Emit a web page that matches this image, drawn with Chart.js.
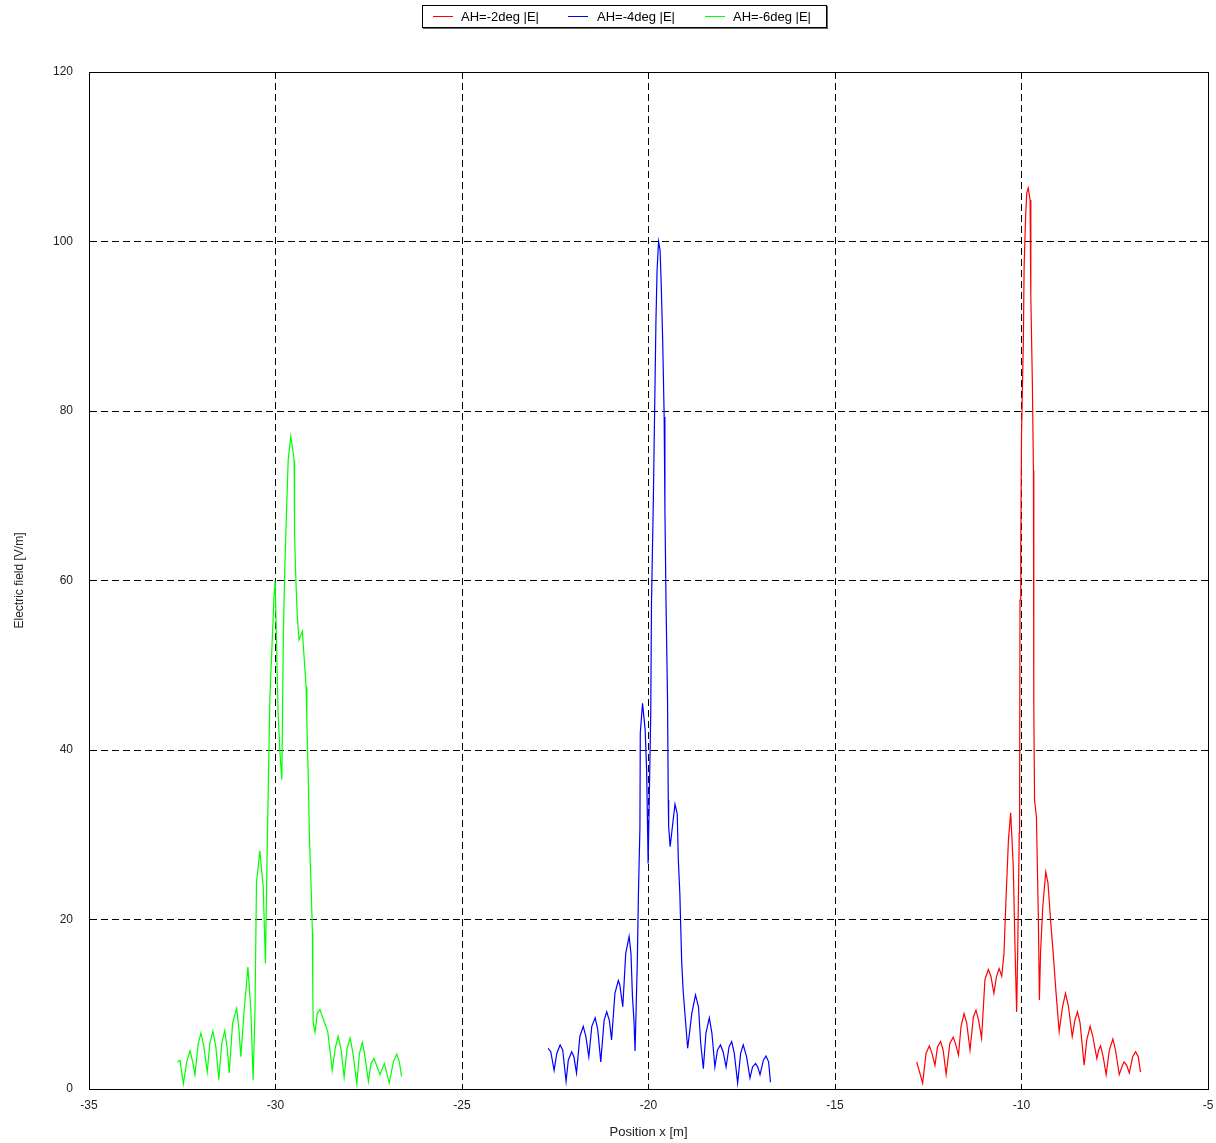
<!DOCTYPE html>
<html>
<head>
<meta charset="utf-8">
<script src="https://cdn.jsdelivr.net/npm/chart.js@4.4.0/dist/chart.umd.min.js"></script>
<style>
    body { margin: 0; background: #fff; font-family: "Liberation Sans", Arial, sans-serif; }
    #wrap { position: relative; width: 1216px; height: 1143px; }
    #legend { position: absolute; left: 422px; top: 5px; width: 403px; height: 21px; border: 1px solid #000; box-shadow: 1px 1px 0 #666; background: #fff; }
    .sw { position: absolute; top: 10px; width: 20px; height: 1px; }
    .lbl { position: absolute; top: 3px; font-size: 13px; color: #000; white-space: nowrap; }
</style>
</head>
<body>
<div id="wrap">
    <canvas id="myChart" width="1216" height="1143"></canvas>
    <div id="legend">
        <div class="sw" style="left:10px;background:#ff0000"></div><div class="lbl" style="left:38px">AH=-2deg |E|</div>
        <div class="sw" style="left:145px;background:#0000ff"></div><div class="lbl" style="left:174px">AH=-4deg |E|</div>
        <div class="sw" style="left:282px;background:#00ff00"></div><div class="lbl" style="left:310px">AH=-6deg |E|</div>
    </div>
</div>
<script>
const seriesNames = ['AH=-2deg |E|', 'AH=-4deg |E|', 'AH=-6deg |E|'];
const seriesColors = ['#ff0000', '#0000ff', '#00ff00'];

// AH=-2deg
const redX = [-12.81, -12.65, -12.56, -12.47, -12.40, -12.32, -12.25, -12.17, -12.10, -12.02, -11.92, -11.83, -11.76, -11.69,
    -11.62, -11.54, -11.47, -11.38, -11.29, -11.22, -11.15, -11.07, -10.98, -10.89, -10.82, -10.74, -10.67, -10.60,
    -10.53, -10.47, -10.42, -10.35, -10.29, -10.22, -10.17, -10.13, -10.10, -10.06, -10.05, -10.04, -10.02, -10.00, -9.95, -9.93, -9.89, -9.86,
    -9.82, -9.77, -9.75, -9.71, -9.68, -9.67, -9.65, -9.60, -9.55, -9.52, -9.49, -9.43, -9.35, -9.29, -9.22, -9.15, -9.08,
    -8.99, -8.90, -8.82, -8.74, -8.64, -8.57, -8.50, -8.43, -8.32, -8.25, -8.16, -8.09, -7.98, -7.93, -7.88, -7.81,
    -7.73, -7.645, -7.55, -7.48, -7.38, -7.31, -7.25, -7.18, -7.11, -7.02, -6.94, -6.87, -6.81];
const redY = [3.2, 0.7, 4.2, 5.1, 4.2, 2.8, 5.0, 5.6, 4.6, 1.7, 5.4, 6.1, 5.2, 4.0,
    7.4, 8.9, 7.8, 4.6, 8.5, 9.3, 8.1, 6.0, 12.9, 14.1, 13.3, 11.3, 13.3, 14.2,
    13.3, 16.0, 21.9, 29.4, 32.6, 26.2, 16.0, 9.1, 16.8, 30.2, 34.5, 57.7, 63.6, 77.0, 88.4, 97.0, 102.9, 105.7,
    106.3, 104.9, 93.5, 83.7, 73.0, 45.1, 34.1, 32.1, 20.7, 10.5, 16.0, 21.5, 25.6, 24.3, 19.9, 16.0, 11.7,
    6.8, 9.7, 11.3, 9.7, 6.2, 8.1, 9.1, 7.8, 2.8, 5.8, 7.4, 6.2, 3.6, 4.6, 5.1, 3.8,
    1.7, 4.6, 5.9, 4.6, 1.7, 2.6, 3.2, 2.8, 1.9, 3.8, 4.4, 3.8, 2.0];

// AH=-4deg
const blueX = [-22.69, -22.62, -22.53, -22.46, -22.37, -22.30, -22.21, -22.15, -22.06, -22.00, -21.93, -21.84, -21.75, -21.68,
    -21.60, -21.52, -21.43, -21.36, -21.28, -21.19, -21.12, -21.05, -20.99, -20.90, -20.81, -20.77, -20.69, -20.61, -20.52,
    -20.47, -20.43, -20.39, -20.36,
    -20.30, -20.27, -20.23, -20.22, -20.16, -20.09, -20.05, -20.01, -19.94, -19.92, -19.87, -19.83, -19.80, -19.77,
    -19.73, -19.69, -19.66, -19.62, -19.58, -19.56, -19.53, -19.49, -19.47, -19.46, -19.42, -19.29, -19.23, -19.20, -19.16, -19.11, -19.07,
    -18.95, -18.84, -18.74, -18.66, -18.60, -18.53, -18.46, -18.37, -18.30, -18.22, -18.15, -18.07, -18.00, -17.92, -17.84,
    -17.77, -17.70, -17.61, -17.53, -17.46, -17.37, -17.28, -17.21, -17.13, -17.07, -17.01, -16.92, -16.85, -16.78, -16.73];
const blueY = [4.8, 4.4, 2.2, 4.2, 5.2, 4.6, 0.9, 3.4, 4.4, 3.8, 1.9, 6.2, 7.4, 6.2,
    3.8, 7.4, 8.4, 7.0, 3.2, 8.1, 9.1, 8.1, 5.8, 11.3, 12.8, 12.3, 9.7, 16.0, 18.0,
    16.0, 10.9, 8.1, 4.5,
    15.0, 23.1, 30.8, 42.0, 45.5, 42.4, 37.6, 26.6, 44.3, 57.3, 69.5, 81.7, 90.7, 96.6,
    100.0, 99.0, 95.1, 88.4, 79.3, 68.5, 57.3, 46.1, 34.1, 31.0, 28.6, 33.6, 32.5, 27.0, 23.1, 15.0, 11.5,
    4.8, 8.9, 11.1, 9.7, 5.4, 2.4, 6.6, 8.4, 6.6, 2.6, 4.6, 5.2, 4.4, 2.6, 5.0,
    5.6, 4.2, 0.7, 4.2, 5.2, 3.8, 1.3, 2.6, 3.0, 2.6, 1.7, 3.4, 3.9, 3.2, 0.8];

// AH=-6deg
const greenX = [-32.63, -32.56, -32.47, -32.38, -32.29, -32.22, -32.16, -32.07, -32.00, -31.92, -31.83, -31.76, -31.68, -31.60,
    -31.52, -31.44, -31.36, -31.29, -31.24, -31.15, -31.04, -30.98, -30.93, -30.84, -30.74, -30.66, -30.60, -30.55,
    -30.51, -30.42, -30.33, -30.27, -30.22, -30.15, -30.04, -30.01, -29.93, -29.88, -29.83,
    -29.79, -29.75, -29.70, -29.66, -29.59, -29.50, -29.49, -29.46, -29.42, -29.37, -29.28, -29.24, -29.18, -29.16, -29.12, -29.09, -29.04, -29.01, -29.00,
    -28.99, -28.94, -28.88, -28.81, -28.70, -28.60, -28.54, -28.48, -28.40, -28.32, -28.24, -28.16, -28.08, -28.00, -27.93,
    -27.82, -27.75, -27.67, -27.60, -27.51, -27.44, -27.36, -27.29, -27.20, -27.08, -26.95, -26.84, -26.75, -26.68, -26.62];
const greenY = [3.2, 3.4, 0.6, 3.2, 4.5, 3.2, 1.7, 5.4, 6.6, 5.0, 2.0, 5.4, 6.8, 5.0,
    1.1, 5.4, 6.9, 4.6, 1.9, 7.8, 9.5, 7.0, 3.8, 9.3, 14.4, 9.3, 1.1, 9.3,
    24.3, 28.1, 23.9, 14.8, 29.0, 46.3, 58.1, 60.0, 44.3, 39.6, 36.5,
    53.4, 61.6, 68.7, 74.2, 77.0, 74.2, 65.6, 60.9, 56.1, 53.0, 54.0, 51.4, 47.5, 43.5, 36.5, 29.8, 23.1, 18.4, 11.3,
    7.8, 6.7, 8.9, 9.4, 8.0, 6.8, 4.6, 2.2, 4.8, 6.2, 4.6, 1.4, 4.8, 6.0, 4.4,
    0.6, 4.2, 5.5, 3.8, 0.9, 3.0, 3.6, 2.8, 1.7, 3.0, 0.7, 3.2, 4.1, 3.2, 1.5];

const xTicks = { min: -35, max: -5, step: 5 };
const yTicks = { min: 0, max: 120, step: 20 };

function toPoints(xs, ys) {
    return xs.map((x, i) => ({ x: x, y: ys[i] }));
}

// solid frame round the plot area
const frame = {
    id: 'frame',
    afterDraw(chart) {
        const { ctx, chartArea: a } = chart;
        ctx.save();
        ctx.strokeStyle = '#000';
        ctx.lineWidth = 1;
        ctx.strokeRect(a.left + 0.5, a.top + 0.5, a.right - a.left, a.bottom - a.top);
        ctx.restore();
    }
};

const gridOpts = { color: '#000', lineWidth: 1, drawTicks: false };
const borderOpts = { color: '#000', dash: [7, 4] };
const tickFont = { family: '"Liberation Sans", Arial, sans-serif', size: 12 };

new Chart(document.getElementById('myChart').getContext('2d'), {
    type: 'line',
    data: {
        datasets: [
            { label: seriesNames[0], data: toPoints(redX, redY), borderColor: seriesColors[0] },
            { label: seriesNames[1], data: toPoints(blueX, blueY), borderColor: seriesColors[1] },
            { label: seriesNames[2], data: toPoints(greenX, greenY), borderColor: seriesColors[2] }
        ]
    },
    options: {
        responsive: false,
        animation: false,
        layout: { padding: { top: 72, right: 8, left: 0, bottom: 0 } },
        elements: {
            line: { borderWidth: 1.2, tension: 0, fill: false },
            point: { radius: 0 }
        },
        plugins: { legend: { display: false }, tooltip: { enabled: false } },
        scales: {
            x: {
                type: 'linear',
                min: xTicks.min,
                max: xTicks.max,
                ticks: { stepSize: xTicks.step, color: '#222', font: tickFont, padding: 9 },
                grid: gridOpts,
                border: borderOpts,
                title: { display: true, text: 'Position x [m]', color: '#222', font: { size: 13 }, padding: { top: 0, bottom: 3 } },
                afterFit(scale) {
                    scale.height = 54;
                    scale.paddingRight = 0; // let the "-5" label hang into the right margin
                }
            },
            y: {
                min: yTicks.min,
                max: yTicks.max,
                ticks: { stepSize: yTicks.step, color: '#222', font: tickFont, padding: 16 },
                grid: gridOpts,
                border: borderOpts,
                title: { display: true, text: 'Electric field [V/m]', color: '#222', font: { size: 12 }, padding: { top: 12, bottom: 0 } },
                afterFit(scale) { scale.width = 89; }
            }
        }
    },
    plugins: [frame]
});
</script>
</body>
</html>
